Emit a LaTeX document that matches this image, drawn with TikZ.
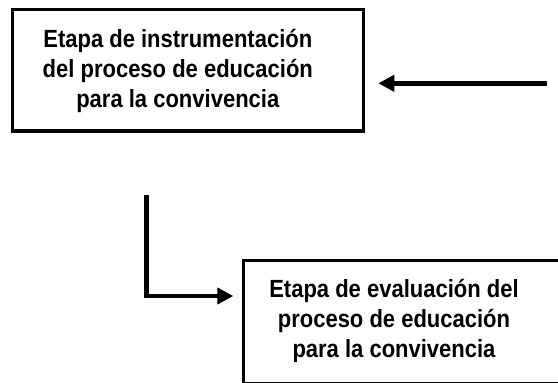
\documentclass[tikz,border=0pt]{standalone}
\usepackage{fontspec}
\setmainfont{Liberation Sans}
\usetikzlibrary{arrows.meta}
\begin{document}
\begin{tikzpicture}[x=1pt,y=-1pt,
  boxframe/.style={draw=black,line width=3.5pt,inner sep=0pt,outer sep=0pt,rectangle},
  boxtext/.style={align=center,inner sep=0pt,yscale=1.13,transform shape,font=\bfseries\fontsize{22}{26.5}\selectfont},
  flowarrow/.style={line width=4.5pt,-{Triangle[length=16pt,width=16pt]}}]
\useasboundingbox (0,0) rectangle (558,383);
\fill[white] (0,0) rectangle (558,383);
\clip (0,0) rectangle (558,383);
\node[boxframe,minimum width=350.6pt,minimum height=121.7pt] (b1) at (188,70.2) {};
\begin{scope}[shift={(177.8,71.2)}]
\node[boxtext] (t1) at (0,0) {Etapa de instrumentación\\del proceso de educación\\para la convivencia};
\end{scope}
\node[boxframe,minimum width=336.7pt,minimum height=122.8pt] (b2) at (411.65,322.1) {};
\begin{scope}[shift={(394,321.2)}]
\node[boxtext] (t2) at (0,0) {Etapa de evaluación del\\proceso de educación\\para la convivencia};
\end{scope}
\coordinate (c1) at (547,83.3);
\coordinate (c2) at (146.7,195);
\coordinate (c3) at (146.7,296);
\draw[flowarrow,shorten >=15pt] (c1) -- (c1 -| b1.east);
\draw[line width=4.5pt] (c2) -- (c3);
\draw[flowarrow,shorten >=10pt] ([xshift=-2.25pt]c3) -- (c3 -| b2.west);
\end{tikzpicture}
\end{document}
